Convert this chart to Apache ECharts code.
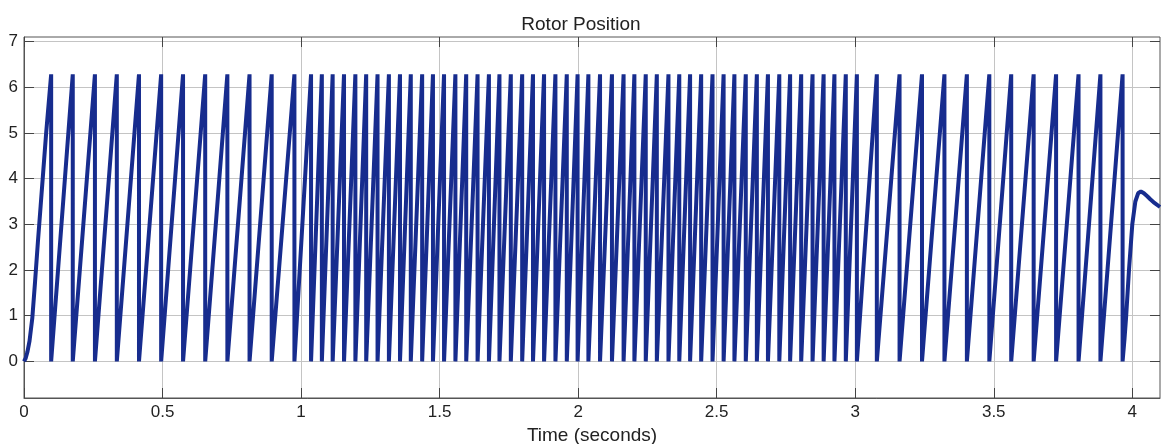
<!DOCTYPE html>
<html>
<head>
<meta charset="utf-8">
<script src="https://cdn.jsdelivr.net/npm/echarts@6/dist/echarts.min.js"></script>
<style>
  html, body { margin: 0; padding: 0; background: #fff; }
  #main { width: 1162px; height: 444px; }
</style>
</head>
<body>
<div id="main"></div>
<script>
// start-up of the first revolution (rotor accelerating from rest)
const startTime = [0, 0.006, 0.012, 0.02, 0.03, 0.04, 0.05, 0.06, 0.07, 0.08];
const startPos  = [0, 0.07, 0.2, 0.45, 0.95, 1.75, 2.6, 3.4, 4.2, 5.0];

// times where the angle wraps from 2*pi back to 0
const wrapTimes = [
  0.098, 0.176, 0.256, 0.335, 0.415, 0.495, 0.574, 0.654, 0.734, 0.814, 0.894, 0.976,
  1.036, 1.075, 1.114, 1.155, 1.196, 1.235, 1.276, 1.317, 1.357, 1.396, 1.437, 1.476,
  1.516, 1.557, 1.596, 1.637, 1.678, 1.716, 1.757, 1.798, 1.837, 1.877, 1.918, 1.959,
  1.998, 2.037, 2.079, 2.122, 2.164, 2.203, 2.244, 2.284, 2.326, 2.365, 2.404, 2.444,
  2.485, 2.525, 2.564, 2.605, 2.645, 2.685, 2.726, 2.765, 2.805, 2.846, 2.886, 2.925,
  2.966, 3.006,
  3.078, 3.160, 3.241, 3.322, 3.403, 3.484, 3.563, 3.644, 3.725, 3.806, 3.885, 3.965
];
const wrapLevel = 6.283;

// after the last wrap the rotor stops and settles
const endTime = [3.972, 3.978, 3.988, 4.0, 4.011, 4.021, 4.031, 4.042, 4.055, 4.065, 4.08, 4.1];
const endPos  = [0.5, 1.0, 2.0, 3.0, 3.5, 3.68, 3.72, 3.68, 3.61, 3.55, 3.47, 3.38];

const xTicks = [0, 0.5, 1, 1.5, 2, 2.5, 3, 3.5, 4];
const yTicks = [0, 1, 2, 3, 4, 5, 6, 7];

// build the sawtooth from the read values
const points = startTime.map((t, i) => [t, startPos[i]]);
wrapTimes.forEach(t => {
  points.push([t, wrapLevel]);
  points.push([t, 0]);
});
endTime.forEach((t, i) => points.push([t, endPos[i]]));

const chart = echarts.init(document.getElementById('main'));

const labelFont = { fontFamily: 'Liberation Sans', fontSize: 17, color: '#222' };
const gridLine = { show: true, lineStyle: { color: '#c4c4c4', width: 1 } };
const inTick = function (vals) {
  return { show: true, inside: true, length: 10, customValues: vals, lineStyle: { color: '#444' } };
};

var option = {
  animation: false,
  backgroundColor: '#fff',
  title: {
    text: 'Rotor Position',
    left: 'center',
    top: 10,
    textStyle: { fontFamily: 'Liberation Sans', fontSize: 19, fontWeight: 'normal', color: '#222' }
  },
  grid: {
    left: 24,
    right: 2,
    top: 37,
    bottom: 46,
    outerBoundsMode: 'none',
    containLabel: false,
    show: true,
    borderColor: '#555',
    borderWidth: 1
  },
  xAxis: [
    {
      type: 'value',
      min: 0,
      max: 4.1,
      interval: 0.5,
      name: 'Time (seconds)',
      nameLocation: 'middle',
      nameGap: 25,
      nameTextStyle: { fontFamily: 'Liberation Sans', fontSize: 19, color: '#222' },
      axisLine: { show: true, onZero: false, lineStyle: { color: '#555' } },
      axisTick: inTick(xTicks),
      splitLine: gridLine,
      axisLabel: Object.assign({
        margin: 6,
        customValues: xTicks,
        formatter: v => String(+(+v).toFixed(2))
      }, labelFont)
    },
    {
      type: 'value',
      position: 'top',
      min: 0,
      max: 4.1,
      interval: 0.5,
      axisLine: { show: false, onZero: false },
      axisTick: inTick(xTicks),
      axisLabel: { show: false },
      splitLine: { show: false }
    }
  ],
  yAxis: [
    {
      type: 'value',
      min: -0.8,
      max: 7.1,
      splitNumber: 8,
      axisLine: { show: true, onZero: false, lineStyle: { color: '#555' } },
      axisTick: inTick(yTicks),
      splitLine: gridLine,
      axisLabel: Object.assign({
        margin: 6,
        customValues: yTicks,
        formatter: v => String(+(+v).toFixed(2))
      }, labelFont)
    },
    {
      type: 'value',
      position: 'right',
      min: -0.8,
      max: 7.1,
      splitNumber: 8,
      axisLine: { show: false, onZero: false },
      axisTick: inTick(yTicks),
      axisLabel: { show: false },
      splitLine: { show: false }
    }
  ],
  series: [
    {
      name: 'Rotor Position',
      type: 'line',
      data: points,
      showSymbol: false,
      symbol: 'none',
      sampling: null,
      lineStyle: { color: '#172c8e', width: 4, join: 'bevel' }
    }
  ]
};

chart.setOption(option);
</script>
</body>
</html>
